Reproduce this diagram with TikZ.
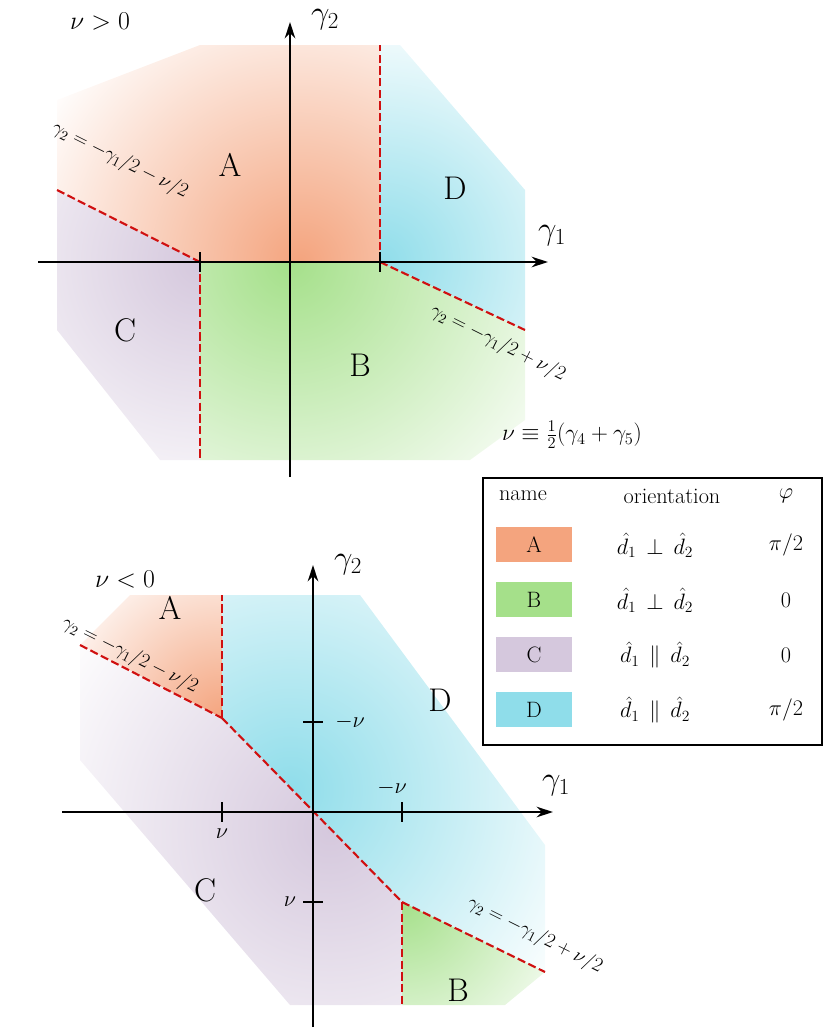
\RequirePackage{fix-cm}
\documentclass[tikz,border=0pt]{standalone}
\usetikzlibrary{arrows.meta}
\definecolor{cA}{HTML}{F4A47E}
\definecolor{cB}{HTML}{A5E08A}
\definecolor{cC}{HTML}{D5C8DD}
\definecolor{cD}{HTML}{8FDDEA}
\definecolor{dred}{HTML}{D01010}
\tikzset{
 ax/.style={line width=1.6pt,-{Stealth[length=14pt,width=9pt]}},
 bnd/.style={line width=1.8pt,dred,dash pattern=on 7pt off 3pt},
 big/.style={font=\fontsize{28}{28}\selectfont},
 axl/.style={font=\fontsize{28}{28}\selectfont},
 eq/.style={font=\fontsize{17}{17}\selectfont,rotate=-26.6},
 tb/.style={font=\fontsize{19}{19}\selectfont},
 tl/.style={font=\fontsize{19}{19}\selectfont},
 tk/.style={line width=1.8pt}
}
\newcommand{\reg}[5]{% color, center, radius, polygon
  \begin{scope}\clip #4;
  \shade[inner color=#1,outer color=white] #2 circle (#3);
  \end{scope}}
\begin{document}
\begin{tikzpicture}[x=0.03cm,y=-0.03cm]
\useasboundingbox (0,0) rectangle (830,1034);
% ---- top diagram regions
\reg{cA}{(300,262)}{300}{(57,100)--(57,190)--(200,262)--(380,262)--(380,45)--(200,45)--cycle}{}
\reg{cD}{(380,262)}{260}{(380,262)--(525,330)--(525,190)--(400,45)--(380,45)--cycle}{}
\reg{cB}{(290,262)}{330}{(200,262)--(380,262)--(525,330)--(525,420)--(470,460)--(200,460)--cycle}{}
\reg{cC}{(200,262)}{280}{(57,190)--(200,262)--(200,460)--(160,460)--(57,330)--cycle}{}
% boundaries
\draw[bnd] (57,190) coordinate (t1) -- (200,262) coordinate (t2);
\draw[bnd] (t2) -- (380,262) coordinate (t3);
\draw[bnd] (t3) -- (380,45);
\draw[bnd] (t3) -- (525,330) coordinate (t4);
\draw[bnd] (t2) -- (200,460);
% axes
\coordinate (tx0) at (38,262); \coordinate (tx1) at (548,262);
\coordinate (ty0) at (290,477); \coordinate (ty1) at (290,22);
\draw[ax] (tx0)--(tx1);
\draw[ax] (ty0)--(ty1);
\draw[tk] (200,252)--(200,272); \draw[tk] (380,252)--(380,272);
\node[axl] (tg2) at (325,20) {$\gamma_2$};
\node[axl] (tg1) at (552,236) {$\gamma_1$};
\node[font=\fontsize{22}{22}\selectfont] (tnu) at (100,22) {$\nu>0$};
\node[big] (tA) at (230,165) {A};
\node[big] (tD) at (455,188) {D};
\node[big] (tC) at (125,330) {C};
\node[big] (tB) at (360,365) {B};
\node[eq] (te1) at (120,160) {$\gamma_2=-\gamma_1/2-\nu/2$};
\node[eq] (te2) at (498,343) {$\gamma_2=-\gamma_1/2+\nu/2$};
\node[font=\fontsize{20}{20}\selectfont] (nudef) at (572,435) {$\nu\equiv\frac12(\gamma_4+\gamma_5)$};
% ---- table
\draw[line width=1pt] (483,478) rectangle (822,745);
\node[tb] (h1) at (523,496) {name};
\node[tb] (h2) at (672,496) {orientation};
\node[tb] (h3) at (786,496) {$\varphi$};
\foreach \c/\l/\o/\p [count=\i] in {cA/A/\perp/{\pi/2},cB/B/\perp/0,cC/C/\parallel/0,cD/D/\parallel/{\pi/2}}{
  \fill[\c] (496,527+55*\i-55) rectangle (572,562+55*\i-55);
  \node[tb] (n\i) at (534,545+55*\i-55) {\l};
  \node[tb] (o\i) at (655,545+55*\i-55) {$\hat d_1\,\o\,\hat d_2$};
  \node[tb] (p\i) at (786,545+55*\i-55) {$\p$};
}
% ---- bottom diagram regions
\reg{cA}{(222,718)}{190}{(80,645)--(222,718)--(222,595)--(130,595)--cycle}{}
\reg{cD}{(290,790)}{330}{(222,595)--(222,718)--(402,902)--(545,972)--(545,845)--(360,595)--cycle}{}
\reg{cC}{(330,830)}{330}{(80,645)--(222,718)--(402,902)--(402,1005)--(290,1005)--(80,760)--cycle}{}
\reg{cB}{(402,902)}{200}{(402,902)--(545,972)--(505,1005)--(402,1005)--cycle}{}
\draw[bnd] (80,645) coordinate (b1) -- (222,718) coordinate (b2);
\draw[bnd] (b2) -- (222,595);
\draw[bnd] (b2) -- (402,902) coordinate (b3);
\draw[bnd] (b3) -- (402,1005);
\draw[bnd] (b3) -- (545,972);
\coordinate (bx0) at (62,812); \coordinate (bx1) at (553,812);
\coordinate (by0) at (313,1027); \coordinate (by1) at (313,565);
\draw[ax] (bx0)--(bx1);
\draw[ax] (by0)--(by1);
\draw[tk] (222,802)--(222,822); \draw[tk] (402,802)--(402,822);
\draw[tk] (303,722)--(323,722); \draw[tk] (303,902)--(323,902);
\node[tl] (l1) at (222,834) {$\nu$};
\node[tl] (l2) at (392,788) {$-\nu$};
\node[tl] (l3) at (350,722) {$-\nu$};
\node[tl] (l4) at (290,902) {$\nu$};
\node[axl] (bg2) at (348,565) {$\gamma_2$};
\node[axl] (bg1) at (556,786) {$\gamma_1$};
\node[font=\fontsize{22}{22}\selectfont] (bnu) at (125,580) {$\nu<0$};
\node[big] (bA) at (170,608) {A};
\node[big] (bD) at (440,700) {D};
\node[big] (bC) at (205,890) {C};
\node[big] (bB) at (458,990) {B};
\node[eq] (be1) at (130,655) {$\gamma_2=-\gamma_1/2-\nu/2$};
\node[eq] (be2) at (535,935) {$\gamma_2=-\gamma_1/2+\nu/2$};
\end{tikzpicture}
\end{document}
